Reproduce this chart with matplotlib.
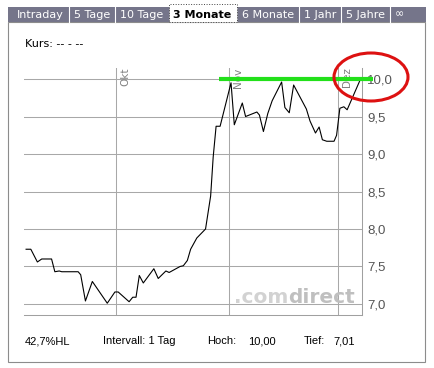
import matplotlib
matplotlib.use("Agg")
import matplotlib.pyplot as plt
from matplotlib.patches import Rectangle, Ellipse
from matplotlib.transforms import blended_transform_factory

W, H = 434, 368  # Bildgroesse in Pixel

# Kursverlauf (Tage relativ zum 1. Oktober, Schlusskurs)
tage = [-24.7, -23.4, -21.6, -20.4, -17.7, -16.8, -15.6, -14.9, -10.4, -9.7,
        -8.4, -6.5, -2.4, -0.3, 0.6, 3.6, 4.6, 5.5, 6.4, 7.5,
        10.4, 11.6, 13.7, 14.6, 17.6, 18.5, 19.6, 20.5, 22.2, 24.6,
        26.0, 26.7, 27.5, 28.6, 31.6, 32.5, 34.7, 35.6, 38.7, 39.4,
        40.5, 41.7, 42.9, 45.5, 46.4, 47.6, 48.8, 52.3, 53.3, 54.8,
        55.8, 56.7, 57.9, 59.9, 60.6, 61.5, 62.6, 63.5, 67.0]
kurs = [7.73, 7.73, 7.56, 7.60, 7.60, 7.43, 7.44, 7.43, 7.43, 7.39,
        7.04, 7.30, 7.01, 7.16, 7.16, 7.03, 7.09, 7.09, 7.38, 7.28,
        7.47, 7.34, 7.44, 7.42, 7.50, 7.51, 7.58, 7.73, 7.88, 8.00,
        8.44, 8.96, 9.37, 9.37, 9.95, 9.39, 9.68, 9.50, 9.56, 9.52,
        9.30, 9.54, 9.71, 9.96, 9.62, 9.55, 9.92, 9.60, 9.44, 9.28,
        9.36, 9.19, 9.17, 9.17, 9.25, 9.61, 9.63, 9.59, 9.98]

monate = ["Okt", "Nov", "Dez"]
monat_tage = [0, 31, 61]
y_werte = [7.0, 7.5, 8.0, 8.5, 9.0, 9.5, 10.0]

tabs = ["Intraday", "5 Tage", "10 Tage", "3 Monate", "6 Monate", "1 Jahr", "5 Jahre", "\u221e"]
aktiv = "3 Monate"

# eingezeichnete Widerstandslinie
linie_niveau = 10.0
linie_von, linie_bis = 28.3, 70.6

fuss_texte = ["42,7%HL", "Intervall: 1 Tag", "Hoch:", "10,00", "Tief:", "7,01"]


def fx(px):
    return px / W


def fy(py):
    return 1 - py / H


fig = plt.figure(figsize=(W / 100, H / 100), dpi=100)
fig.patch.set_facecolor("white")
renderer = fig.canvas.get_renderer()

# Rahmen
fig.patches.append(Rectangle((fx(8), fy(362)), fx(425) - fx(8), fy(22) - fy(362),
                             transform=fig.transFigure, fill=False,
                             edgecolor="#8c8c8c", lw=0.8))
# Reiterleiste
fig.patches.append(Rectangle((fx(8), fy(22)), fx(426) - fx(8), fy(7) - fy(22),
                             transform=fig.transFigure, facecolor="#75758a",
                             edgecolor="none"))
x = 17
for i, name in enumerate(tabs):
    ist_aktiv = name == aktiv
    t = fig.text(fx(x), fy(14.5), name, ha="left", va="center", fontsize=8,
                 color="black" if ist_aktiv else "white",
                 fontweight="bold" if ist_aktiv else "normal", zorder=5)
    bb = t.get_window_extent(renderer)
    rechts = x + bb.width
    if ist_aktiv:
        fig.patches.append(Rectangle((fx(x - 4), fy(22)), fx(rechts + 5) - fx(x - 4),
                                     fy(4) - fy(22), transform=fig.transFigure,
                                     facecolor="white", edgecolor="#444444",
                                     lw=0.7, ls=":", zorder=4))
    elif i < len(tabs) - 1 and tabs[i + 1] != aktiv:
        fig.lines.append(plt.Line2D([fx(rechts + 5)] * 2, [fy(7), fy(22)],
                                    transform=fig.transFigure, color="white", lw=0.8))
    x = rechts + 10

fig.text(fx(25), fy(44), "Kurs: -- - --", ha="left", va="center", fontsize=8)

# Chart
px_tag = 3.64
ax = fig.add_axes([fx(24), fy(315), fx(362) - fx(24), fy(68) - fy(315)])
ax.set_xlim((24 - 116) / px_tag, (362 - 116) / px_tag)
ax.set_ylim(6.853, 10.147)
ax.set_facecolor("none")

ax.set_xticks(monat_tage)
ax.set_xticklabels([])
ax.set_yticks(y_werte)
ax.set_yticklabels([f"{v:.1f}".replace(".", ",") for v in y_werte],
                   fontfamily="Liberation Sans", fontsize=9.5, color="#555555")
ax.yaxis.tick_right()
ax.tick_params(length=0, pad=3.6)
ax.grid(True, color="#a8a8a8", lw=0.75)
for s in ["left", "top"]:
    ax.spines[s].set_visible(False)
for s in ["right", "bottom"]:
    ax.spines[s].set_color("#a0a0a0")
    ax.spines[s].set_linewidth(0.75)

trans = blended_transform_factory(ax.transData, ax.transAxes)
for m, d in zip(monate, monat_tage):
    ax.annotate(m, (d, 1.0), xycoords=trans, xytext=(2.9, 0.5),
                textcoords="offset points", rotation=90, ha="left", va="top",
                fontsize=7.5, color="#808080")

# Wasserzeichen
wz2 = fig.text(fx(355), fy(303), "direct", ha="right", va="baseline",
               fontsize=14.5, fontweight="bold", color="#bfbfbf", zorder=1)
bb2 = wz2.get_window_extent(renderer)
fig.text(bb2.x0 / W, fy(303), ".com", ha="right", va="baseline",
         fontsize=14.5, fontweight="bold", color="#d2d2d2", zorder=1)

ax.plot(tage, kurs, color="black", lw=0.8, zorder=3)
ax.plot([linie_von, linie_bis], [linie_niveau] * 2, color="#22e01a", lw=3,
        solid_capstyle="butt", clip_on=False, zorder=4)

fig.patches.append(Ellipse((fx(371), fy(77)), fx(74), 48 / H, transform=fig.transFigure,
                           fill=False, edgecolor="#dd1111", lw=2.2, zorder=6))

# Fusszeile
fuss_x = [25, 103, 207, 248, 304, 333]
for txt, px in zip(fuss_texte, fuss_x):
    fig.text(fx(px), fy(341), txt, ha="left", va="center", fontsize=8,
             fontfamily="Liberation Sans")

fig.savefig("out.png", dpi=100, facecolor="white")
